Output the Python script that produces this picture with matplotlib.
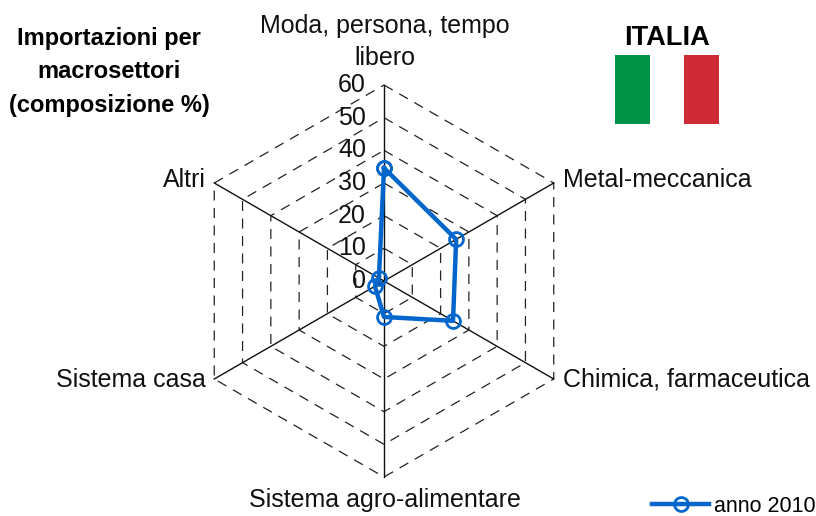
import numpy as np
import matplotlib
matplotlib.use('Agg')
import matplotlib.pyplot as plt
from matplotlib.patches import Rectangle

plt.rcParams['font.family'] = ['Liberation Sans', 'DejaVu Sans']

# data
categories = ['Moda, persona, tempo\nlibero', 'Metal-meccanica', 'Chimica, farmaceutica',
              'Sistema agro-alimentare', 'Sistema casa', 'Altri']
values_2010 = [34.6, 25.5, 24.4, 11.0, 3.2, 1.8]
radial_ticks = [0, 10, 20, 30, 40, 50, 60]
series_name = 'anno 2010'
flag_colors = ['#009246', '#ffffff', '#ce2b37']

W, H = 816, 516
cx, cy, R = 384, 281, 196
BLUE = '#0066cc'

fig = plt.figure(figsize=(W / 100, H / 100), dpi=100)
ax = fig.add_axes([(cx - R) / W, (H - cy - R) / H, 2 * R / W, 2 * R / H], projection='polar')
ax.set_theta_zero_location('N')
ax.set_theta_direction(-1)
ax.set_ylim(0, 60)
ax.axis('off')

angles = np.arange(len(categories)) * 2 * np.pi / len(categories)
closed = np.append(angles, angles[0])

#hexagonal grid
for r in radial_ticks[1:]:
    ax.plot(closed, [r] * len(closed), color='#222222', lw=0.9, dashes=(8, 6), clip_on=False)
#spokes
for a in angles:
    ax.plot([a, a], [0, 60], color='#111111', lw=1.0, clip_on=False)

#radial tick labels
for r in radial_ticks:
    ax.annotate(str(r), (0, r), xytext=(-13, 0), textcoords='offset points', ha='right',
                va='center', fontsize=18, color='#111111', annotation_clip=False)

#series
ax.plot(closed, values_2010 + values_2010[:1], color=BLUE, lw=3.2, marker='o', ms=10,
        mfc='none', mec=BLUE, mew=2, clip_on=False, zorder=5, label=series_name)


def px(x, y):
    return x / W, 1 - y / H


#category labels
label_pos = [(385, 42, 'center'), (563, 180, 'left'), (563, 380, 'left'),
             (385, 500, 'center'), (206, 380, 'right'), (206, 180, 'right')]
for name, (x, y, ha) in zip(categories, label_pos):
    fx, fy = px(x, y)
    fig.text(fx, fy, name, ha=ha, va='center', fontsize=18, color='#111111', linespacing=1.46)

#left title
fx, fy = px(109, 72)
fig.text(fx, fy, 'Importazioni per\nmacrosettori\n(composizione %)', ha='center', va='center',
         fontsize=17, fontweight='bold', color='black', linespacing=1.6)

#flag
fx, fy = px(667, 38)
fig.text(fx, fy, 'ITALIA', ha='center', va='center', fontsize=19.6, fontweight='bold', color='black')
for i, c in enumerate(flag_colors):
    fx, fy = px(615 + i * 34.5, 124)
    fig.add_artist(Rectangle((fx, fy), 34.5 / W, 69 / H, transform=fig.transFigure,
                             facecolor=c, edgecolor='none'))

#legend
ax.legend(loc='center right', bbox_to_anchor=px(816, 506), bbox_transform=fig.transFigure,
          frameon=False, fontsize=15.5, handlelength=2.65, handletextpad=0.23, borderpad=0,
          borderaxespad=0)

fig.savefig('out.png', dpi=100)
